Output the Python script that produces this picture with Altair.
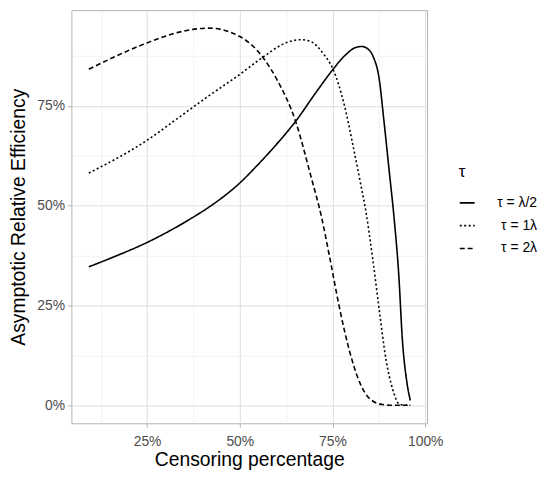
import altair as alt
import pandas as pd

# tau = lambda/2 (solid)
x_half = [0.093, 0.15, 0.25, 0.372, 0.416, 0.5, 0.549, 0.6, 0.651, 0.704, 0.75, 0.783,
          0.814, 0.83, 0.845, 0.859, 0.876, 0.889, 0.903, 0.916, 0.929, 0.938, 0.951, 0.96]
y_half = [0.347, 0.368, 0.408, 0.47, 0.496, 0.557, 0.603, 0.655, 0.712, 0.782, 0.840, 0.876,
          0.897, 0.899, 0.893, 0.875, 0.817, 0.71, 0.586, 0.47, 0.322, 0.17, 0.055, 0.012]

# tau = 1 lambda (dotted)
x_one = [0.093, 0.25, 0.337, 0.416, 0.5, 0.562, 0.624, 0.664, 0.69, 0.726, 0.75, 0.783,
         0.805, 0.823, 0.841, 0.859, 0.876, 0.894, 0.912, 0.929, 0.945, 0.96]
y_one = [0.582, 0.664, 0.722, 0.775, 0.829, 0.872, 0.908, 0.916, 0.912, 0.88, 0.845, 0.748,
         0.652, 0.568, 0.48, 0.363, 0.239, 0.116, 0.041, 0.004, 0.0, 0.0]

# tau = 2 lambda (dashed)
x_two = [0.093, 0.25, 0.337, 0.416, 0.5, 0.562, 0.602, 0.651, 0.69, 0.722, 0.744, 0.77,
         0.797, 0.823, 0.85, 0.885, 0.92, 0.96]
y_two = [0.842, 0.908, 0.935, 0.945, 0.924, 0.872, 0.813, 0.71, 0.58, 0.465, 0.363, 0.239,
         0.132, 0.058, 0.017, 0.002, 0.0, 0.0]

labels = ["τ = λ/2", "τ = 1λ", "τ = 2λ"]
dashes = [[1, 0], [2, 2.5], [5, 3]]

x_ticks = [0.125, 0.25, 0.375, 0.5, 0.625, 0.75, 0.875, 1.0]
y_ticks = [0.0, 0.125, 0.25, 0.375, 0.5, 0.625, 0.75, 0.875]

frames = []
for lab, xs, ys in zip(labels, [x_half, x_one, x_two], [y_half, y_one, y_two]):
    frames.append(pd.DataFrame({"censor": xs, "are": ys, "tau": lab}))
df = pd.concat(frames, ignore_index=True)

is_major = "datum.value * 8 % 2 == 0"
label_expr = f"{is_major} ? format(datum.value, '.0%') : ''"

axis_common = dict(
    domain=False,
    labelExpr=label_expr,
    labelColor="#4D4D4D",
    labelFontSize=14,
    labelFont="Liberation Sans",
    titleFont="Liberation Sans",
    titleFontSize=19.5,
    titleFontWeight="normal",
    titleColor="black",
    tickColor="#B3B3B3",
    tickSize=4,
    tickOpacity={"condition": {"test": is_major, "value": 1}, "value": 0},
    gridColor={"condition": {"test": is_major, "value": "#DEDEDE"}, "value": "#EBEBEB"},
    gridWidth={"condition": {"test": is_major, "value": 1}, "value": 0.6},
)

chart = alt.Chart(df).mark_line(strokeWidth=1.6, color="black", interpolate="monotone").encode(
    x=alt.X("censor:Q", title="Censoring percentage",
            scale=alt.Scale(domain=[0.046, 1.005], nice=False, zero=False),
            axis=alt.Axis(values=x_ticks, labelPadding=7, titlePadding=3, **axis_common)),
    y=alt.Y("are:Q", title="Asymptotic Relative Efficiency",
            scale=alt.Scale(domain=[-0.045, 0.99], nice=False),
            axis=alt.Axis(values=y_ticks, labelPadding=3, titlePadding=8, **axis_common)),
    strokeDash=alt.StrokeDash("tau:N", title="τ",
                              scale=alt.Scale(domain=labels, range=dashes),
                              legend=alt.Legend(orient="none", legendX=391, legendY=155,
                                                symbolType="stroke", symbolSize=225,
                                                symbolStrokeColor="black", symbolStrokeWidth=1.6,
                                                labelFontSize=14, labelFont="Liberation Sans",
                                                labelAlign="right", labelOffset=62,
                                                titleFontSize=17, titleFont="Liberation Sans",
                                                titleFontWeight="normal", titlePadding=14,
                                                rowPadding=7)),
    order="censor:Q",
    detail="tau:N",
).properties(
    width=359, height=417,
    padding={"left": 0, "top": 0, "right": 5, "bottom": 0},
).configure_view(
    stroke="#B3B3B3", strokeWidth=1
)

chart.save("out.html", embed_options={"renderer": "svg", "actions": False})
